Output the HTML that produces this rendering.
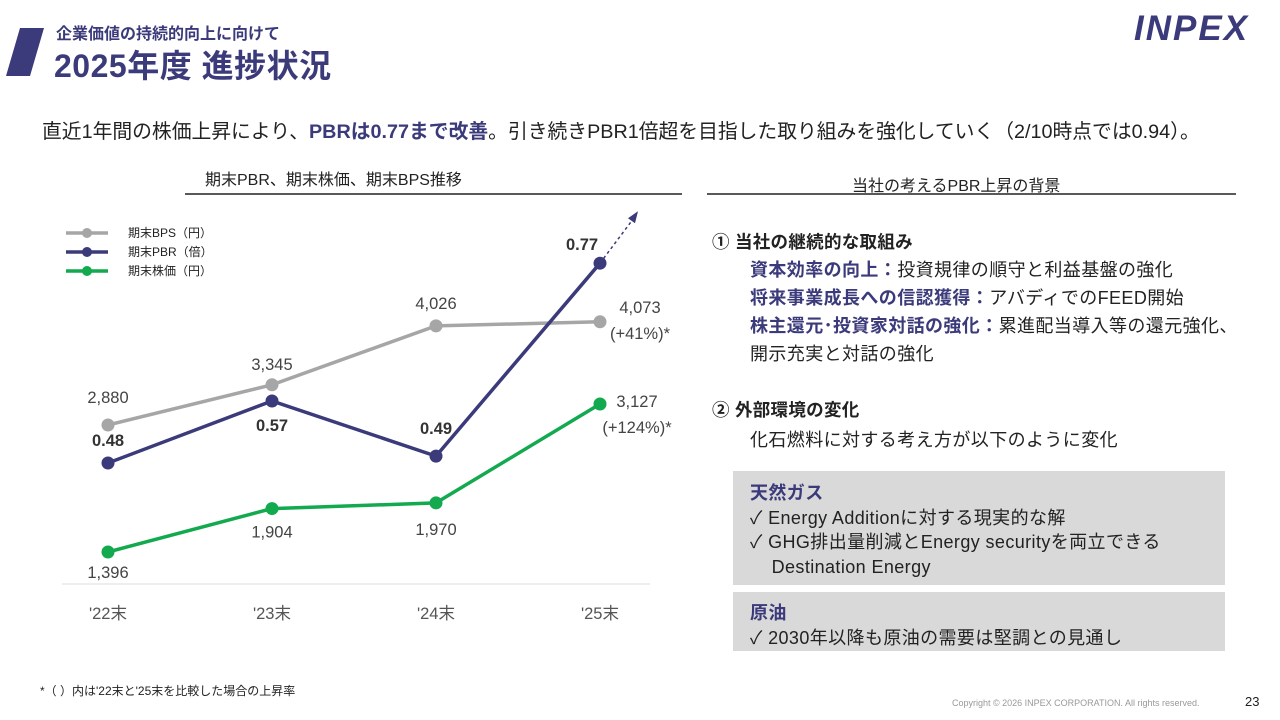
<!DOCTYPE html>
<html><head><meta charset="utf-8"><style>
body{margin:0;width:1280px;height:720px;background:#fff;position:relative;overflow:hidden;font-family:"Liberation Sans","Noto Sans CJK JP",sans-serif;color:#222}
.a{position:absolute;white-space:nowrap}
.nv{color:#3b3a7a;font-weight:bold}
</style></head><body>
<svg class="a" style="left:0;top:0" width="1280" height="720">
<polygon points="20,28 44,28 30,76 6,76" fill="#3b3a7a"/>
<line x1="185" y1="194" x2="682" y2="194" stroke="#222" stroke-width="1.5"/>
<line x1="707" y1="194" x2="1236" y2="194" stroke="#222" stroke-width="1.5"/>
<line x1="62" y1="584" x2="650" y2="584" stroke="#ddd" stroke-width="1"/>
<rect x="733" y="471" width="492" height="114" fill="#d9d9d9"/>
<rect x="733" y="592" width="492" height="59" fill="#d9d9d9"/>
</svg>
<div class="a nv" style="left:56px;top:20px;font-size:16px">企業価値の持続的向上に向けて</div>
<div class="a nv" style="left:54px;top:41px;font-size:32px;letter-spacing:0.5px">2025年度 進捗状況</div>
<div class="a" style="left:1134px;top:9px;font-size:35px;font-weight:900;font-style:italic;color:#3b3a7a;letter-spacing:2px">INPEX</div>
<div class="a" style="left:42px;top:115px;font-size:19.8px">直近1年間の株価上昇により、<span class="nv">PBRは0.77まで改善</span>。引き続きPBR1倍超を目指した取り組みを強化していく（2/10時点では0.94）。</div>
<div class="a" style="left:205px;top:166px;font-size:16px">期末PBR、期末株価、期末BPS推移</div>
<div class="a" style="left:852px;top:172px;font-size:16px">当社の考えるPBR上昇の背景</div>
<svg id="ch" class="a" style="left:0;top:0" width="700" height="720"></svg>
<div class="a" style="left:712px;top:229px;font-size:17.5px;font-weight:bold;letter-spacing:0.3px">① 当社の継続的な取組み</div>
<div class="a" style="left:750px;top:256px;font-size:18px;line-height:28px;letter-spacing:0.4px"><span class="nv">資本効率の向上：</span>投資規律の順守と利益基盤の強化<br><span class="nv">将来事業成長への信認獲得：</span>アバディでのFEED開始<br><span class="nv">株主還元･投資家対話の強化：</span>累進配当導入等の還元強化、<br>開示充実と対話の強化</div>
<div class="a" style="left:712px;top:397px;font-size:17.5px;font-weight:bold;letter-spacing:0.3px">② 外部環境の変化</div>
<div class="a" style="left:750px;top:426px;font-size:18px;letter-spacing:0.4px">化石燃料に対する考え方が以下のように変化</div>
<div class="a" style="left:750px;top:481px;font-size:18px;line-height:24.5px;letter-spacing:0.4px"><span class="nv">天然ガス</span><br>✓ Energy Additionに対する現実的な解<br>✓ GHG排出量削減とEnergy securityを両立できる<br>&nbsp;&nbsp;&nbsp;&nbsp;Destination Energy</div>
<div class="a" style="left:750px;top:601px;font-size:18px;line-height:24.5px;letter-spacing:0.4px"><span class="nv">原油</span><br>✓ 2030年以降も原油の需要は堅調との見通し</div>
<div class="a" style="left:40px;top:682px;font-size:12px">*（ ）内は'22末と'25末を比較した場合の上昇率</div>
<div class="a" style="left:952px;top:698px;font-size:9px;color:#999">Copyright © 2026 INPEX CORPORATION. All rights reserved.</div>
<div class="a" style="left:1245px;top:694px;font-size:13px">23</div>
<script>
const categories=["'22末","'23末","'24末","'25末"];
const bps=[2880,3345,4026,4073];
const pbr=[0.48,0.57,0.49,0.77];
const price=[1396,1904,1970,3127];
const bpsLabels=["2,880","3,345","4,026","4,073"];
const pbrLabels=["0.48","0.57","0.49","0.77"];
const priceLabels=["1,396","1,904","1,970","3,127"];
const NS="http://www.w3.org/2000/svg",svg=document.getElementById('ch');
const x=i=>108+i*164;
const yB=v=>425-(v-2880)*0.0865;
const yP=v=>463-(v-0.48)*689;
const yS=v=>552-(v-1396)*0.0855;
function mk(t,a,p){const e=document.createElementNS(NS,t);for(const k in a)e.setAttribute(k,a[k]);(p||svg).appendChild(e);return e;}
function txt(s,xx,yy,o){const e=mk('text',Object.assign({x:xx,y:yy,'font-size':16.5,fill:'#444','text-anchor':'middle','font-family':'Liberation Sans,Noto Sans CJK JP,sans-serif'},o||{}));e.textContent=s;return e;}
categories.forEach((c,i)=>{const t=txt(c,x(i),619,{'font-size':16.5,fill:'#555'});

});
const ser=[[bps,yB,'#a6a6a6','bps'],[pbr,yP,'#3b3a7a','pbr'],[price,yS,'#12a94f','price']];
const last=pbr.length-1;
mk('line',{x1:x(last),y1:yP(pbr[last]),x2:x(last)+36,y2:yP(pbr[last])-48,stroke:'#3b3a7a','stroke-width':1.5,'stroke-dasharray':'3,3'});
mk('polygon',{points:`${x(last)+38},${yP(pbr[last])-52} ${x(last)+28},${yP(pbr[last])-45} ${x(last)+35},${yP(pbr[last])-40}`,fill:'#3b3a7a'});
ser.forEach(([d,f,col,n])=>{
const pl=mk('polyline',{points:d.map((v,i)=>x(i)+','+f(v)).join(' '),fill:'none',stroke:col,'stroke-width':3.5});


d.forEach((v,i)=>{const c=mk('circle',{cx:x(i),cy:f(v),r:6.5,fill:col});

});});
const bOff=[-22,-15,-17,-9];
bps.forEach((v,i)=>{const t=txt(bpsLabels[i],i==3?x(i)+40:x(i),yB(v)+bOff[i],{});

});
txt('(+41%)*',x(3)+40,yB(bps[3])+17,{});
const pOff=[-17,30,-22,-13];
pbr.forEach((v,i)=>{const t=txt(pbrLabels[i],x(i)-(i==3?18:0),yP(v)+pOff[i],{'font-weight':'bold',fill:'#333'});

});
const sOff=[26,29,32,3];
price.forEach((v,i)=>{const t=txt(priceLabels[i],i==3?x(i)+37:x(i),yS(v)+sOff[i],{});

});
txt('(+124%)*',x(3)+37,yS(price[3])+29,{});
const leg=[['期末BPS（円）','#a6a6a6',233],['期末PBR（倍）','#3b3a7a',252],['期末株価（円）','#12a94f',271]];
leg.forEach(([s,c,yy])=>{mk('line',{x1:66,y1:yy,x2:108,y2:yy,stroke:c,'stroke-width':3.5});mk('circle',{cx:87,cy:yy,r:5,fill:c});
const t=txt(s,128,yy+4,{'font-size':12,'text-anchor':'start',fill:'#222'});

});
</script>
</body></html>
